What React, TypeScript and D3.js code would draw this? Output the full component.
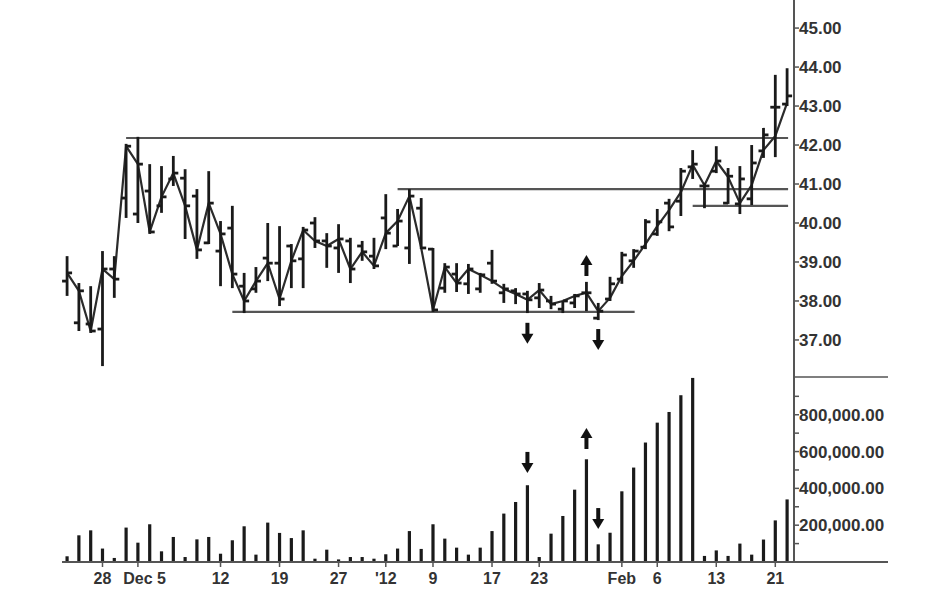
import React, { useEffect, useRef } from 'react';
import * as d3 from 'd3';

// daily bars, Nov 22 2011 .. Feb 22 2012 (62 sessions)
const opens = [
  38.51, 37.44, 37.41, 37.28, 38.82, 40.64, 40.23, 40.82, 40.44, 41.13,
  41.15, 40.69, 39.49, 39.28, 39.87, 38.38, 38.31, 39.10, 38.97, 39.41,
  39.08, 40.00, 39.54, 39.36, 39.54, 39.41, 39.15, 40.13, 39.41, 39.36,
  40.38, 39.33, 38.33, 38.69, 38.44, 38.31, 38.97, 38.21, 38.26, 38.18,
  38.08, 38.00, 37.79, 37.95, 38.21, 37.56, 38.05, 38.56, 39.03, 39.38,
  39.72, 40.51, 40.56, 41.44, 40.95, 41.33, 40.51, 40.49, 40.62, 41.85,
  42.97, 43.05
];
const highs = [
  39.15, 38.46, 38.38, 39.28, 39.15, 42.03, 42.21, 41.51, 41.46, 41.72,
  41.38, 40.87, 41.33, 40.05, 40.44, 38.72, 38.87, 40.00, 39.92, 39.46,
  39.90, 40.15, 39.74, 39.97, 39.62, 39.54, 39.62, 40.74, 40.36, 40.87,
  40.64, 39.36, 38.97, 38.97, 38.95, 38.72, 39.31, 38.44, 38.33, 38.26,
  38.46, 38.13, 38.00, 38.18, 38.49, 37.95, 38.62, 39.26, 39.33, 40.10,
  40.36, 40.62, 41.41, 41.87, 41.03, 41.97, 41.41, 41.46, 42.00, 42.44,
  43.80, 43.97
];
const lows = [
  38.13, 37.23, 37.18, 36.33, 38.08, 40.13, 40.00, 39.72, 40.26, 40.95,
  39.59, 39.08, 39.46, 38.38, 38.33, 37.69, 38.21, 38.51, 37.87, 38.33,
  38.33, 39.36, 38.85, 38.72, 38.46, 39.03, 38.82, 39.33, 39.41, 38.95,
  39.33, 37.72, 38.21, 38.23, 38.18, 38.21, 38.44, 37.95, 37.92, 37.69,
  37.82, 37.79, 37.69, 37.82, 37.74, 37.51, 38.00, 38.44, 38.85, 39.33,
  39.67, 39.79, 40.18, 41.13, 40.38, 41.28, 40.49, 40.23, 40.46, 41.67,
  41.69, 43.00
];
const closes = [
  38.72, 38.26, 37.23, 38.82, 38.56, 41.97, 41.51, 39.77, 40.67, 41.28,
  40.44, 39.31, 40.51, 39.72, 38.69, 38.00, 38.51, 38.97, 38.05, 39.03,
  39.82, 39.54, 39.41, 39.59, 38.82, 39.26, 38.90, 39.74, 40.05, 40.69,
  39.36, 37.77, 38.87, 38.46, 38.82, 38.67, 38.51, 38.31, 38.18, 38.03,
  38.28, 37.92, 38.00, 38.13, 38.21, 37.74, 38.44, 39.18, 39.28, 40.03,
  40.03, 39.90, 41.33, 41.51, 40.95, 41.59, 41.20, 41.13, 41.54, 42.26,
  42.97, 43.26
];
// the connecting line drawn through the bars
const closeLine = [
  38.72, 38.26, 37.23, 38.82, 38.56, 41.97, 41.51, 39.77, 40.67, 41.28,
  40.44, 39.31, 40.51, 39.72, 38.69, 38.00, 38.51, 38.97, 38.05, 39.03,
  39.82, 39.54, 39.41, 39.59, 38.82, 39.26, 38.90, 39.74, 40.05, 40.69,
  39.36, 37.77, 38.87, 38.46, 38.82, 38.67, 38.51, 38.31, 38.18, 38.03,
  38.28, 37.92, 38.00, 38.13, 38.21, 37.74, 38.08, 38.64, 39.03, 39.46,
  39.92, 40.33, 40.79, 41.49, 40.97, 41.59, 41.18, 40.51, 40.97, 41.87,
  42.23, 43.08
];
const volumes = [
  31000, 145000, 172000, 73000, 22000, 187000, 105000, 205000, 58000, 136000,
  27000, 123000, 136000, 45000, 118000, 194000, 40000, 214000, 158000, 130000,
  172000, 18000, 67000, 14000, 27000, 27000, 18000, 42000, 73000, 168000,
  71000, 205000, 127000, 78000, 40000, 78000, 168000, 263000, 326000, 417000,
  27000, 154000, 250000, 393000, 558000, 96000, 159000, 384000, 513000, 649000,
  757000, 815000, 906000, 1000000, 33000, 63000, 33000, 100000, 40000, 122000,
  226000, 340000
];

// date labels on the bottom axis (bar index -> text)
const labelIndex = [3, 6, 8, 13, 18, 23, 27, 31, 36, 40, 47, 50, 55, 60];
const labelText = ['28', 'Dec', '5', '12', '19', '27', "'12", '9', '17', '23', 'Feb', '6', '13', '21'];
const tickIndex = [3, 6, 13, 18, 23, 27, 31, 36, 40, 47, 50, 55, 60];

// support / resistance lines: price level, first bar, last bar
const levelPrice = [42.18, 40.87, 40.44, 37.72];
const levelFrom = [5, 28, 53, 14];
const levelTo = [61, 61, 61, 48];

// arrows: bar index, pane, direction, tail value
const arrowIndex = [39, 44, 45, 39, 44, 45];
const arrowPane = ['price', 'price', 'price', 'volume', 'volume', 'volume'];
const arrowDir = ['down', 'up', 'down', 'down', 'up', 'down'];
const arrowTail = [37.44, 38.64, 37.28, 598000, 614000, 293000];

const priceTicks = [37, 38, 39, 40, 41, 42, 43, 44, 45];
const volumeTicks = [100000, 200000, 300000, 400000, 500000, 600000, 700000, 800000, 900000];
const volumeLabels = [200000, 400000, 600000, 800000];

export default function App() {
  const svgRef = useRef<SVGSVGElement>(null);

  useEffect(() => {
    if (!svgRef.current) return;
    const svg = d3.select(svgRef.current);
    svg.selectAll('*').remove();

    const axisX = 794;
    const x = d3.scaleLinear().domain([-0.6, 61.5]).range([60, 793]);
    const priceY = d3.scaleLinear().domain([36.05, 45.72]).range([377, 0]);
    const volY = d3.scaleLinear().domain([0, 1005000]).range([562, 377]);
    const ink = '#1a1a1a';
    const font = '"Liberation Sans", Arial, sans-serif';

    // volume bars
    svg.append('g')
      .selectAll('rect')
      .data(volumes)
      .enter()
      .append('rect')
      .attr('x', (d, i) => x(i) - 1.6)
      .attr('y', d => volY(d))
      .attr('width', 3.2)
      .attr('height', d => volY(0) - volY(d))
      .style('fill', ink);

    // support / resistance
    levelPrice.forEach((p, k) => {
      svg.append('line')
        .attr('x1', x(levelFrom[k]))
        .attr('x2', x(levelTo[k]) + 1)
        .attr('y1', priceY(p))
        .attr('y2', priceY(p))
        .style('stroke', '#555')
        .style('stroke-width', 2.2);
    });

    // close line
    const line = d3.line<number>()
      .x((d, i) => x(i))
      .y(d => priceY(d));
    svg.append('path')
      .datum(closeLine)
      .attr('d', line)
      .style('fill', 'none')
      .style('stroke', '#2b2b2b')
      .style('stroke-width', 2.2)
      .style('stroke-linejoin', 'round');

    // OHLC bars
    const bars = svg.append('g');
    highs.forEach((h, i) => {
      const cx = x(i);
      bars.append('line')
        .attr('x1', cx).attr('x2', cx)
        .attr('y1', priceY(h)).attr('y2', priceY(lows[i]))
        .style('stroke', ink).style('stroke-width', 2.8);
      bars.append('line')
        .attr('x1', cx - 5).attr('x2', cx)
        .attr('y1', priceY(opens[i])).attr('y2', priceY(opens[i]))
        .style('stroke', ink).style('stroke-width', 2.8);
      bars.append('line')
        .attr('x1', cx).attr('x2', cx + 5)
        .attr('y1', priceY(closes[i])).attr('y2', priceY(closes[i]))
        .style('stroke', ink).style('stroke-width', 2.8);
    });

    // arrows
    arrowIndex.forEach((idx, k) => {
      const scale = arrowPane[k] === 'price' ? priceY : volY;
      const y0 = scale(arrowTail[k]);
      const s = arrowDir[k] === 'down' ? 1 : -1;
      const cx = x(idx);
      svg.append('line')
        .attr('x1', cx).attr('x2', cx)
        .attr('y1', y0).attr('y2', y0 + s * 13)
        .style('stroke', '#111').style('stroke-width', 4);
      svg.append('path')
        .attr('d', `M${cx - 6},${y0 + s * 11}L${cx + 6},${y0 + s * 11}L${cx},${y0 + s * 21}Z`)
        .style('fill', '#111');
    });

    // right axis
    svg.append('line')
      .attr('x1', axisX).attr('x2', axisX)
      .attr('y1', 0).attr('y2', volY(0))
      .style('stroke', '#555').style('stroke-width', 2);
    svg.append('line')
      .attr('x1', axisX).attr('x2', 888)
      .attr('y1', priceY(36.05)).attr('y2', priceY(36.05))
      .style('stroke', '#555').style('stroke-width', 1.6);
    svg.append('line')
      .attr('x1', 62).attr('x2', 888)
      .attr('y1', volY(0)).attr('y2', volY(0))
      .style('stroke', '#555').style('stroke-width', 2);

    const pt = svg.append('g');
    priceTicks.forEach(p => {
      pt.append('line')
        .attr('x1', axisX).attr('x2', axisX + 5)
        .attr('y1', priceY(p)).attr('y2', priceY(p))
        .style('stroke', '#555').style('stroke-width', 1.5);
      pt.append('text')
        .attr('x', axisX + 5)
        .attr('y', priceY(p))
        .attr('dy', '0.36em')
        .style('font-family', font)
        .style('font-size', '17px')
        .style('font-weight', '700')
        .style('fill', '#333')
        .text(p.toFixed(2));
    });

    volumeTicks.forEach(v => {
      pt.append('line')
        .attr('x1', axisX).attr('x2', axisX + 5)
        .attr('y1', volY(v)).attr('y2', volY(v))
        .style('stroke', '#555').style('stroke-width', 1.5);
    });
    volumeLabels.forEach(v => {
      pt.append('text')
        .attr('x', axisX + 5)
        .attr('y', volY(v))
        .attr('dy', '0.36em')
        .style('font-family', font)
        .style('font-size', '17px')
        .style('font-weight', '700')
        .style('fill', '#333')
        .text(d3.format(',.2f')(v));
    });

    // bottom date labels
    tickIndex.forEach(i => {
      svg.append('line')
        .attr('x1', x(i)).attr('x2', x(i))
        .attr('y1', volY(0)).attr('y2', volY(0) + 5)
        .style('stroke', '#555').style('stroke-width', 1.5);
    });
    labelIndex.forEach((i, k) => {
      svg.append('text')
        .attr('x', x(i))
        .attr('y', 584)
        .attr('text-anchor', 'middle')
        .style('font-family', font)
        .style('font-size', '16px')
        .style('font-weight', '700')
        .style('fill', '#333')
        .text(labelText[k]);
    });
  }, []);

  return (
    <div style={{ position: 'absolute', left: 0, top: 0, background: '#fff' }}>
      <svg ref={svgRef} width={938} height={610} />
    </div>
  );
}
